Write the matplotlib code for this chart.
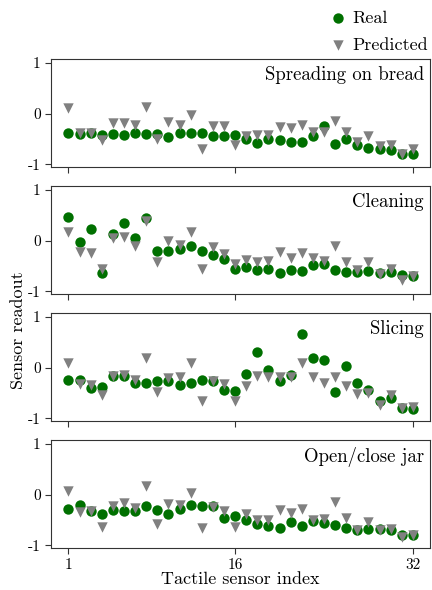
import matplotlib
matplotlib.use("Agg")
import matplotlib.pyplot as plt
import numpy as np

plt.rcParams['font.family'] = ['cmr10', 'DejaVu Serif']
plt.rcParams['mathtext.fontset'] = 'cm'
plt.rcParams['axes.unicode_minus'] = False

sensor_index = list(range(1, 33))
tasks = ["Spreading on bread", "Cleaning", "Slicing", "Open/close jar"]
y_ticks = [-1, 0, 1]
y_tick_labels = ["-1", "0", "1"]
x_ticks = [1, 16, 32]
x_tick_labels = ["1", "16", "32"]

real_spreading = [-0.375, -0.395, -0.39, -0.43, -0.41, -0.43, -0.38, -0.41, -0.41, -0.46,
                  -0.39, -0.38, -0.38, -0.44, -0.44, -0.43, -0.505, -0.58, -0.505, -0.52,
                  -0.56, -0.55, -0.45, -0.245, -0.60, -0.49, -0.61, -0.68, -0.70, -0.71,
                  -0.80, -0.79]
pred_spreading = [0.11, -0.39, -0.38, -0.52, -0.19, -0.19, -0.23, 0.13, -0.49, -0.16,
                  -0.23, -0.02, -0.69, -0.25, -0.25, -0.62, -0.44, -0.42, -0.43, -0.26,
                  -0.28, -0.23, -0.37, -0.37, -0.14, -0.37, -0.55, -0.45, -0.63, -0.61,
                  -0.80, -0.70]

real_cleaning = [0.46, -0.02, 0.22, -0.63, 0.13, 0.34, 0.05, 0.44, -0.21, -0.21,
                 -0.17, -0.10, -0.21, -0.28, -0.37, -0.55, -0.52, -0.58, -0.56, -0.63,
                 -0.57, -0.60, -0.49, -0.46, -0.57, -0.61, -0.61, -0.60, -0.63, -0.61,
                 -0.67, -0.69]
pred_cleaning = [0.16, -0.22, -0.25, -0.55, 0.05, 0.07, -0.10, 0.39, -0.43, -0.01,
                 -0.09, 0.16, -0.55, -0.13, -0.26, -0.46, -0.38, -0.43, -0.40, -0.22,
                 -0.35, -0.25, -0.35, -0.41, -0.10, -0.42, -0.58, -0.43, -0.66, -0.55,
                 -0.78, -0.69]

real_slicing = [-0.25, -0.24, -0.40, -0.39, -0.17, -0.16, -0.30, -0.30, -0.27, -0.27,
                -0.34, -0.31, -0.24, -0.26, -0.44, -0.47, -0.13, 0.31, -0.05, -0.26,
                -0.14, 0.65, 0.19, 0.14, -0.48, 0.04, -0.30, -0.45, -0.66, -0.59,
                -0.80, -0.82]
pred_slicing = [0.08, -0.32, -0.35, -0.53, -0.17, -0.15, -0.25, 0.19, -0.48, -0.20,
                -0.19, 0.09, -0.65, -0.27, -0.32, -0.65, -0.37, -0.16, -0.19, -0.19,
                -0.19, 0.09, -0.19, -0.30, -0.18, -0.37, -0.52, -0.50, -0.74, -0.53,
                -0.79, -0.78]

real_jar = [-0.28, -0.20, -0.32, -0.38, -0.31, -0.32, -0.32, -0.23, -0.31, -0.38,
            -0.28, -0.20, -0.22, -0.23, -0.46, -0.43, -0.50, -0.58, -0.61, -0.65,
            -0.54, -0.61, -0.52, -0.56, -0.59, -0.65, -0.69, -0.67, -0.67, -0.70,
            -0.80, -0.80]
pred_jar = [0.07, -0.35, -0.32, -0.63, -0.22, -0.16, -0.26, 0.16, -0.57, -0.18,
            -0.20, 0.03, -0.65, -0.24, -0.32, -0.64, -0.38, -0.50, -0.50, -0.30,
            -0.36, -0.29, -0.51, -0.49, -0.15, -0.47, -0.70, -0.54, -0.70, -0.67,
            -0.84, -0.80]

real_all = [real_spreading, real_cleaning, real_slicing, real_jar]
pred_all = [pred_spreading, pred_cleaning, pred_slicing, pred_jar]

real_color = '#007000'
pred_color = '#808080'

fig = plt.figure(figsize=(4.32, 5.90), dpi=100)
left, width, height = 0.1185, 0.877, 0.183
bottoms = [0.7169, 0.5017, 0.2864, 0.0712]

handles = None
for k, (name, r, p) in enumerate(zip(tasks, real_all, pred_all)):
    ax = fig.add_axes([left, bottoms[k], width, height])
    h1 = ax.scatter(sensor_index, r, s=56, marker='o', color=real_color, linewidths=0, zorder=2, label='Real')
    h2 = ax.scatter(sensor_index, p, s=56, marker='v', color=pred_color, linewidths=0, zorder=3, label='Predicted')
    handles = [h1, h2]
    ax.set_xlim(-0.55, 33.55)
    ax.set_ylim(-1.05, 1.07)
    ax.set_yticks(y_ticks)
    ax.set_yticklabels(y_tick_labels)
    ax.set_xticks(x_ticks)
    ax.tick_params(direction='out', labelsize=11, length=4, color='#333333')
    for sp in ax.spines.values():
        sp.set_color('#333333')
    if k < 3:
        ax.set_xticklabels([])
    else:
        ax.set_xticklabels(x_tick_labels)
    ax.text(0.984, 0.935, name, ha='right', va='top', transform=ax.transAxes, fontsize=13.5)
    if k == 3:
        ax.set_xlabel('Tactile sensor index', fontsize=13, labelpad=0)

fig.text(0.042, 0.44, 'Sensor readout', rotation=90, ha='center', va='center', fontsize=13)
fig.legend(handles=handles, labels=['Real', 'Predicted'], loc='upper right',
           bbox_to_anchor=(1.008, 0.995), frameon=False, fontsize=13,
           handletextpad=0.3, handlelength=1.0, labelspacing=0.62, borderaxespad=0.0)

fig.savefig('out.png', dpi=100)
